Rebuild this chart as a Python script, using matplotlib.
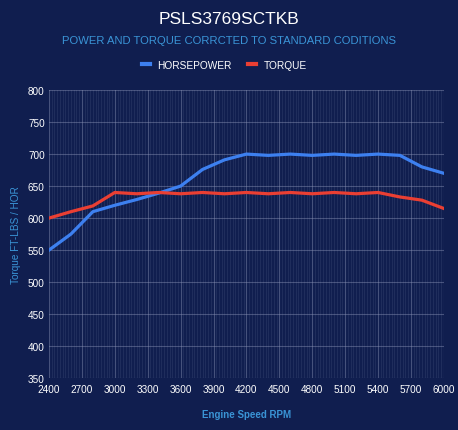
import matplotlib
matplotlib.use('Agg')
import matplotlib.pyplot as plt
from matplotlib.lines import Line2D
from matplotlib.ticker import MultipleLocator

# data, every 200 rpm
rpm = [2400, 2600, 2800, 3000, 3200, 3400, 3600, 3800, 4000, 4200,
       4400, 4600, 4800, 5000, 5200, 5400, 5600, 5800, 6000]
horsepower = [550, 575, 610, 620, 629, 639, 650, 676, 691, 700,
              698, 700, 698, 700, 698, 700, 698, 680, 670]
torque = [600, 610, 619, 640, 638, 640, 638, 640, 638, 640,
          638, 640, 638, 640, 638, 640, 633, 628, 615]

x_ticks = list(range(2400, 6001, 300))
y_ticks = list(range(350, 801, 50))

bg = '#101e4f'
hp_color = '#3d80f0'
tq_color = '#ea3f33'
sub_color = '#3a94d6'

plt.rcParams['font.family'] = ['Liberation Sans', 'DejaVu Sans']

fig = plt.figure(figsize=(4.58, 4.31), dpi=100, facecolor=bg)
ax = fig.add_axes([0.107, 0.1206, 0.862, 0.668], facecolor=bg)

ax.plot(rpm, horsepower, color=hp_color, lw=2.3, solid_joinstyle='round', zorder=3)
ax.plot(rpm, torque, color=tq_color, lw=2.3, solid_joinstyle='round', zorder=3)

ax.set_xlim(2400, 6000)
ax.set_ylim(350, 800)
ax.set_xticks(x_ticks)
ax.set_yticks(y_ticks)
ax.xaxis.set_minor_locator(MultipleLocator(25))

ax.grid(True, which='major', axis='both', color='#8a93b5', alpha=0.45, lw=0.8)
ax.grid(True, which='minor', axis='x', color='#8a93b5', alpha=0.13, lw=0.8)
ax.set_axisbelow(True)

for s in ax.spines.values():
    s.set_visible(False)

ax.tick_params(axis='both', which='both', length=0, colors='white', labelsize=7.2)
ax.tick_params(axis='x', pad=4)
ax.tick_params(axis='y', pad=3)

ax.set_xlabel('Engine Speed RPM', color=sub_color, fontsize=7.0, fontweight='bold', labelpad=11)
ax.set_ylabel('Torque FT-LBS / HOR', color=sub_color, fontsize=7.2, labelpad=5)

fig.text(0.5, 1 - 20 / 431, 'PSLS3769SCTKB', color='white', fontsize=12.5,
         ha='center', va='center')
fig.text(0.5, 1 - 41 / 431, 'POWER AND TORQUE CORRCTED TO STANDARD CODITIONS',
         color=sub_color, fontsize=8.1, ha='center', va='center')

handles = [Line2D([], [], color=hp_color, lw=3),
           Line2D([], [], color=tq_color, lw=3)]
leg = fig.legend(handles, ['HORSEPOWER', 'TORQUE'], loc='center',
                 bbox_to_anchor=(0.49, 1 - 66 / 431), ncol=2, frameon=False,
                 fontsize=7.3, handlelength=0.8, handletextpad=0.7, columnspacing=1.6)
for t in leg.get_texts():
    t.set_color('white')

fig.savefig('out.png', dpi=100, facecolor=bg)
